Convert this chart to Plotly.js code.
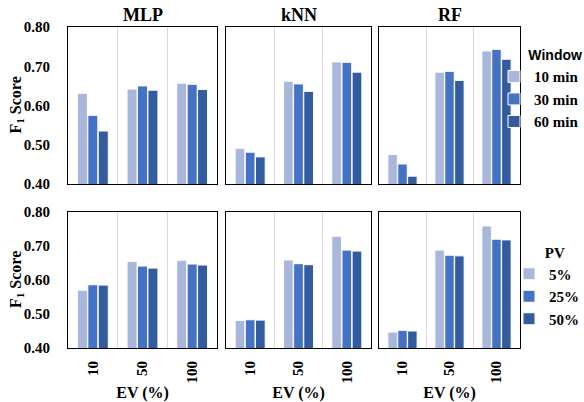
<!DOCTYPE html>
<html>
<head>
<meta charset="utf-8">
<script src="https://cdn.plot.ly/plotly-3.0.1.min.js"></script>
<style>html,body{margin:0;padding:0;background:#fff}#chart{width:584px;height:402px}</style>
</head>
<body>
<div id="chart"></div>
<script>
// ---- data ----
const evCategories = ["10", "50", "100"];
const models = ["MLP", "kNN", "RF"];
const windowNames = ["10 min", "30 min", "60 min"];
const pvNames = ["5%", "25%", "50%"];

// Top row: F1 by window length, per model (values for EV 10, 50, 100)
const mlpWindow10 = [0.631, 0.642, 0.657];
const mlpWindow30 = [0.575, 0.650, 0.654];
const mlpWindow60 = [0.535, 0.639, 0.641];
const knnWindow10 = [0.491, 0.662, 0.711];
const knnWindow30 = [0.481, 0.655, 0.710];
const knnWindow60 = [0.469, 0.636, 0.685];
const rfWindow10 = [0.475, 0.685, 0.739];
const rfWindow30 = [0.451, 0.687, 0.743];
const rfWindow60 = [0.420, 0.664, 0.718];

// Bottom row: F1 by PV share, per model
const mlpPv5 = [0.570, 0.655, 0.658];
const mlpPv25 = [0.586, 0.641, 0.647];
const mlpPv50 = [0.585, 0.635, 0.644];
const knnPv5 = [0.481, 0.659, 0.729];
const knnPv25 = [0.483, 0.648, 0.688];
const knnPv50 = [0.482, 0.645, 0.685];
const rfPv5 = [0.447, 0.688, 0.759];
const rfPv25 = [0.452, 0.673, 0.720];
const rfPv50 = [0.450, 0.671, 0.718];

const yTickVals = [0.4, 0.5, 0.6, 0.7, 0.8];

// ---- styling ----
const colors = ["#A9B7DD", "#4472C4", "#335C9F"];
const W = 584, H = 402;
const xDom = [[68, 217], [226, 371], [379, 520]].map(d => [d[0] / W, d[1] / W]);
const yTop = [1 - 184 / H, 1 - 27 / H];
const yBot = [1 - 348 / H, 1 - 212 / H];
const SERIF = "Liberation Serif";
function sf(size) { return {family: SERIF, size: size, weight: "bold", color: "#000"}; }
const NB = "\u00A0";

const topData = [
  [mlpWindow10, mlpWindow30, mlpWindow60],
  [knnWindow10, knnWindow30, knnWindow60],
  [rfWindow10, rfWindow30, rfWindow60]
];
const botData = [
  [mlpPv5, mlpPv25, mlpPv50],
  [knnPv5, knnPv25, knnPv50],
  [rfPv5, rfPv25, rfPv50]
];

const traces = [];
for (let m = 0; m < 3; m++) {
  for (let s = 0; s < 3; s++) {
    const sfx = m === 0 ? "" : String(m + 1);
    traces.push({
      type: "bar", x: evCategories, y: topData[m][s], name: windowNames[s],
      xaxis: "x" + sfx, yaxis: "y" + sfx,
      marker: {color: colors[s], line: {color: "#fff", width: 1}},
      showlegend: m === 0, legend: "legend"
    });
  }
}
for (let m = 0; m < 3; m++) {
  for (let s = 0; s < 3; s++) {
    traces.push({
      type: "bar", x: evCategories, y: botData[m][s], name: pvNames[s],
      xaxis: "x" + (m + 4), yaxis: "y" + (m + 4),
      marker: {color: colors[s], line: {color: "#fff", width: 1}},
      showlegend: m === 0, legend: "legend2"
    });
  }
}

const annotations = models.map((t, i) => ({
  text: t, xref: "paper", yref: "paper", x: (xDom[i][0] + xDom[i][1]) / 2, y: yTop[1],
  xanchor: "center", yanchor: "bottom", showarrow: false, font: sf(18)
}));
// y-axis titles of the left column
[yTop, yBot].forEach(d => annotations.push({
  text: "F<sub>1</sub> Score", xref: "paper", yref: "paper", x: 16 / W, y: (d[0] + d[1]) / 2,
  xanchor: "center", yanchor: "middle", textangle: -90, showarrow: false, font: sf(16)
}));

const layout = {
  width: W, height: H,
  margin: {l: 0, r: 0, t: 0, b: 0},
  paper_bgcolor: "#fff", plot_bgcolor: "#fff",
  barmode: "group", bargap: 0.37, bargroupgap: 0.04,
  font: sf(15),
  legend: {
    x: 1, y: 1 - 42 / H, xanchor: "right", yanchor: "top", traceorder: "normal",
    title: {text: "Window", side: "top right", font: {family: "Liberation Sans", size: 14, weight: "bold", color: "#000"}},
    font: sf(15), bgcolor: "rgba(0,0,0,0)"
  },
  legend2: {
    x: 1, y: 1 - 238 / H, xanchor: "right", yanchor: "top", traceorder: "normal",
    title: {text: NB.repeat(9) + "PV", font: sf(15)},
    font: sf(15), bgcolor: "rgba(0,0,0,0)"
  },
  annotations: annotations
};

for (let k = 1; k <= 6; k++) {
  const m = (k - 1) % 3;
  const top = k <= 3;
  const sfx = k === 1 ? "" : String(k);
  const xa = {
    domain: xDom[m], anchor: "y" + sfx, type: "category",
    tickson: "boundaries", showgrid: true, gridcolor: "#D9D9D9", gridwidth: 1,
    showline: true, linecolor: "#000", linewidth: 1, mirror: true,
    ticks: "", showticklabels: !top, tickangle: -90, ticklabelstandoff: 6,
    tickfont: sf(15), automargin: false, fixedrange: true
  };
  if (!top) xa.title = {text: "EV (%)", font: sf(16), standoff: 4};
  layout["xaxis" + sfx] = xa;
  layout["yaxis" + sfx] = {
    domain: top ? yTop : yBot, anchor: "x" + sfx, range: [0.4, 0.8],
    tickvals: yTickVals, tickformat: ".2f", showgrid: false, zeroline: false,
    showline: true, linecolor: "#000", linewidth: 1, mirror: true,
    ticks: "", showticklabels: m === 0, ticklabelstandoff: 14,
    tickfont: sf(15), automargin: false, fixedrange: true
  };
}

Plotly.newPlot("chart", traces, layout, {displayModeBar: false, staticPlot: true});
</script>
</body>
</html>
